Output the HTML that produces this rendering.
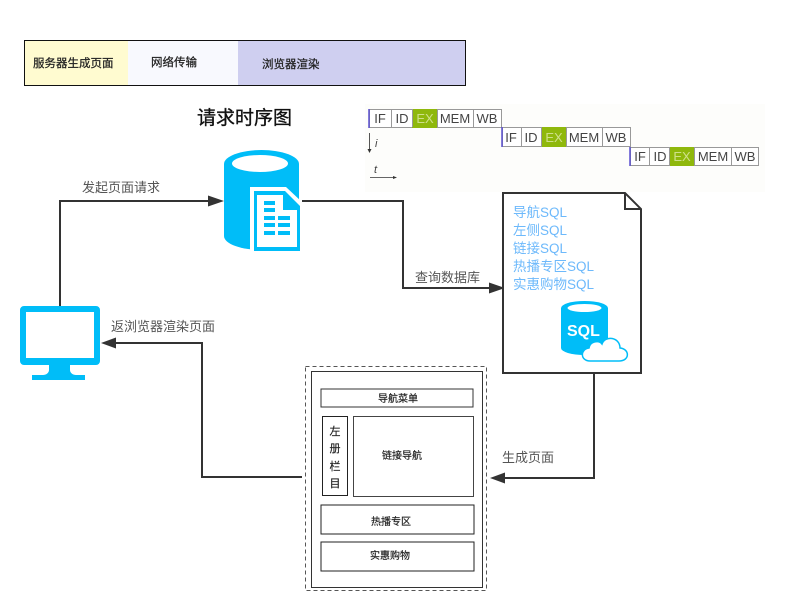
<!DOCTYPE html>
<html><head><meta charset="utf-8"><style>
html,body{margin:0;padding:0;background:#fff}
svg{display:block}
text{font-family:"Liberation Sans","Noto Sans CJK SC",sans-serif}
.soft{filter:blur(.35px)}
</style></head><body>
<svg width="800" height="600" viewBox="0 0 800 600" xmlns="http://www.w3.org/2000/svg">
<rect width="800" height="600" fill="#fff"/>
<rect x="365" y="104" width="400" height="88" fill="#fdfdfb"/>
<!-- top legend -->
<rect x="25" y="41" width="103" height="44" fill="#fffbd0"/>
<rect x="128" y="41" width="110" height="44" fill="#f8f9fe"/>
<rect x="238" y="41" width="228" height="44" fill="#cfcff0"/>
<rect x="24.500" y="40.500" width="441" height="45" fill="none" stroke="#111" stroke-width="1"/>
<g font-size="11.500" fill="#222" stroke="#222" stroke-width=".25" class="soft">
<text x="33" y="67">服务器生成页面</text>
<text x="151" y="66">网络传输</text>
<text x="262" y="68">浏览器渲染</text>
</g>
<text x="197" y="124" font-size="19" fill="#111" stroke="#111" stroke-width=".35">请求时序图</text>
<!-- pipeline -->
<g font-size="13" fill="#444" text-anchor="middle" class="soft">
<g>
<rect x="369.500" y="109.500" width="132" height="18" fill="#fff" stroke="#999"/>
<rect x="412" y="109" width="25" height="19" fill="#8fb80c"/>
<path d="M391.500 109v18M412.500 109v18M437.500 109v18M473.500 109v18" stroke="#999" fill="none"/>
<path d="M369 109v19" stroke="#5a4fd0" stroke-width="1.500"/>
<text x="380" y="123">IF</text><text x="402" y="123">ID</text><text x="425" y="123" fill="#cfe08a">EX</text><text x="455" y="123">MEM</text><text x="487" y="123">WB</text>
</g>
<g>
<rect x="502.500" y="127.500" width="128" height="19" fill="#fff" stroke="#999"/>
<rect x="542" y="127" width="24" height="20" fill="#8fb80c"/>
<path d="M521.500 127v19M541.500 127v19M566.500 127v19M602.500 127v19" stroke="#999" fill="none"/>
<path d="M502 127v20" stroke="#5a4fd0" stroke-width="1.500"/>
<text x="511" y="142">IF</text><text x="531" y="142">ID</text><text x="554" y="142" fill="#cfe08a">EX</text><text x="584" y="142">MEM</text><text x="616" y="142">WB</text>
</g>
<g>
<rect x="630.500" y="147.500" width="128" height="18" fill="#fff" stroke="#999"/>
<rect x="670" y="147" width="24" height="19" fill="#8fb80c"/>
<path d="M649.500 147v18M669.500 147v18M694.500 147v18M731.500 147v18" stroke="#999" fill="none"/>
<path d="M630 147v19" stroke="#5a4fd0" stroke-width="1.500"/>
<text x="640" y="161">IF</text><text x="660" y="161">ID</text><text x="682" y="161" fill="#cfe08a">EX</text><text x="713" y="161">MEM</text><text x="745" y="161">WB</text>
</g>
</g>
<path d="M369.500 133v17" stroke="#555"/><path d="M369.500 153l-2-4h4z" fill="#333"/>
<text x="375" y="147" font-size="11" font-style="italic" fill="#444">i</text>
<text x="374" y="173" font-size="11" font-style="italic" fill="#444">t</text>
<path d="M370 177.500h24" stroke="#666"/><path d="M397 177.500l-4-1.500v3z" fill="#333"/>
<!-- connectors -->
<g fill="none" stroke="#333" stroke-width="2">
<path d="M60 306V201H209"/>
<path d="M302 201H403V288H490"/>
<path d="M594 360V478H505"/>
<path d="M302 477H202V343H116"/>
</g>
<g fill="#333">
<path d="M224 201l-16-5.500v11z"/>
<path d="M505 288l-16-5.500v11z"/>
<path d="M490 478l15-5.500v11z"/>
<path d="M101 343l15-5.500v11z"/>
</g>
<g font-size="13" fill="#555">
<text x="82" y="192">发起页面请求</text>
<text x="111" y="331">返浏览器渲染页面</text>
<text x="415" y="282">查询数据库</text>
<text x="502" y="462">生成页面</text>
</g>
<!-- db icon -->
<path d="M224 164A37.500 14 0 0 1 299 164V236A37.500 14 0 0 1 224 236Z" fill="#00bdf8"/>
<ellipse cx="260" cy="163.500" rx="28" ry="8.500" fill="#fff"/>
<path d="M250 187H286L302 202V251H250Z" fill="#fff"/>
<path d="M254 191H285L300 206V251H254Z" fill="#00bdf8"/>
<path d="M257 195H283V210H297V247H257Z" fill="#fff"/>
<g fill="#00bdf8">
<rect x="264" y="201" width="11" height="4"/><rect x="264" y="208" width="11" height="4"/>
<rect x="264" y="216" width="11" height="4"/><rect x="278" y="216" width="12" height="4"/>
<rect x="264" y="223" width="11" height="4"/><rect x="278" y="223" width="12" height="4"/>
<rect x="264" y="231" width="11" height="4"/><rect x="278" y="231" width="12" height="4"/>
</g>
<!-- document -->
<path d="M503 193H625L641 209V373H503Z" fill="#fff" stroke="#333" stroke-width="2"/>
<path d="M625 193V209H641" fill="none" stroke="#333" stroke-width="2"/>
<g font-size="13.500" fill="#6db9fb">
<text x="513" y="217">导航SQL</text>
<text x="513" y="235">左侧SQL</text>
<text x="513" y="253">链接SQL</text>
<text x="513" y="271">热播专区SQL</text>
<text x="513" y="289">实惠购物SQL</text>
</g>
<path d="M561 308A23.500 7 0 0 1 608 308V348A23.500 7 0 0 1 561 348Z" fill="#00bdf8"/>
<ellipse cx="584.500" cy="308" rx="17" ry="4" fill="#fff"/>
<text x="567" y="336" font-size="16" font-weight="bold" fill="#fff">SQL</text>
<path d="M590 361c-10 0-10-12-1-13 1-7 10-8 13-4 3-9 18-7 18 4 10 1 10 13-1 13z" fill="#fff" stroke="#00bdf8" stroke-width="1.500"/>
<!-- monitor -->
<path fill-rule="evenodd" d="M24 306H96A4 4 0 0 1 100 310V361A4 4 0 0 1 96 365H24A4 4 0 0 1 20 361V310A4 4 0 0 1 24 306ZM26 312V358H94V312Z" fill="#00bdf8"/>
<path d="M49 365H70V370C70 373 73 375 76 375H85V380H32V375H43C46 375 49 373 49 370Z" fill="#00bdf8"/>
<!-- page layout -->
<rect x="305.500" y="366.500" width="181" height="224" fill="none" stroke="#555" stroke-dasharray="4 3"/>
<rect x="311.500" y="371.500" width="171" height="216" fill="none" stroke="#333"/>
<rect x="321" y="389" width="152" height="18" fill="none" stroke="#333"/>
<rect x="322.500" y="416.500" width="25" height="79" fill="none" stroke="#222"/>
<rect x="353.500" y="416.500" width="120" height="80" fill="none" stroke="#444"/>
<rect x="321" y="505" width="153" height="29" fill="none" stroke="#222"/>
<rect x="321" y="542" width="153" height="29" fill="none" stroke="#222"/>
<g font-size="10" fill="#222" stroke="#222" stroke-width=".2" text-anchor="middle" class="soft">
<text x="398" y="402">导航菜单</text>
<text x="402" y="459">链接导航</text>
<text x="391" y="525">热播专区</text>
<text x="390" y="559">实惠购物</text>
<text x="335" y="435" font-size="11">左</text>
<text x="335" y="452" font-size="11">册</text>
<text x="335" y="470" font-size="11">栏</text>
<text x="335" y="487" font-size="11">目</text>
</g>
</svg>
</body></html>
